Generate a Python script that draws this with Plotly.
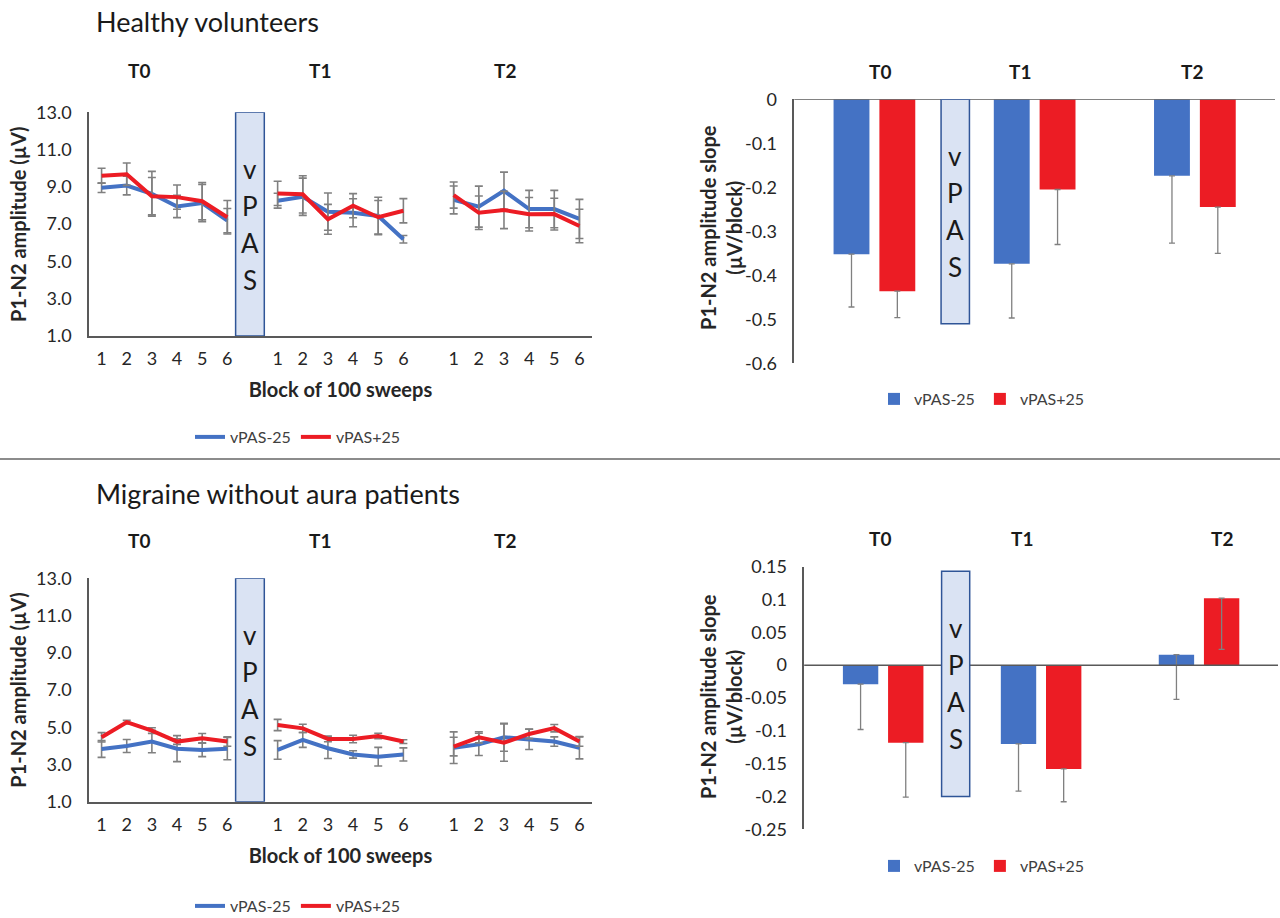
import plotly.graph_objects as go

W, H = 1280, 918
FONT = "Lato"

# ---------------- data ----------------
blocks = ["1", "2", "3", "4", "5", "6"]
sessions = ["T0", "T1", "T2"]
series_names = ["vPAS-25", "vPAS+25"]

# Healthy volunteers: P1-N2 amplitude (µV), 6 blocks x 3 sessions
hv_minus25 = [8.95, 9.07, 8.63, 7.95, 8.13, 7.19,
              8.26, 8.47, 7.67, 7.61, 7.44, 6.19,
              8.30, 7.94, 8.79, 7.81, 7.81, 7.28]
hv_plus25 = [9.60, 9.68, 8.50, 8.45, 8.23, 7.37,
             8.65, 8.60, 7.26, 7.99, 7.37, 7.72,
             8.56, 7.61, 7.76, 7.53, 7.54, 6.90]
hv_minus25_err = [0.25, 0.50, 1.20, 0.60, 1.00, 0.65,
                  0.40, 1.00, 1.00, 0.75, 1.00, 0.20,
                  0.75, 1.10, 1.00, 1.00, 1.00, 1.05]
hv_plus25_err = [0.40, 0.60, 1.00, 0.65, 1.00, 0.90,
                 0.65, 1.00, 0.80, 0.65, 0.90, 0.65,
                 0.70, 0.90, 1.00, 0.90, 0.85, 0.90]

# Migraine without aura patients
mo_minus25 = [3.83, 3.99, 4.23, 3.85, 3.78, 3.85,
              3.78, 4.32, 3.87, 3.54, 3.42, 3.54,
              3.90, 4.08, 4.46, 4.35, 4.23, 3.90]
mo_plus25 = [4.46, 5.27, 4.82, 4.23, 4.41, 4.23,
             5.12, 4.94, 4.37, 4.37, 4.53, 4.23,
             3.96, 4.46, 4.17, 4.64, 4.95, 4.23]
mo_minus25_err = [0.45, 0.35, 0.60, 0.70, 0.36, 0.60,
                  0.50, 0.40, 0.55, 0.20, 0.50, 0.35,
                  0.85, 0.60, 0.75, 0.55, 0.25, 0.60]
mo_plus25_err = [0.25, 0.10, 0.15, 0.15, 0.25, 0.25,
                 0.30, 0.22, 0.15, 0.20, 0.15, 0.10,
                 0.50, 0.30, 1.00, 0.25, 0.20, 0.25]

# Slopes (µV/block) per session
hv_slope_minus25 = [-0.352, -0.374, -0.174]
hv_slope_plus25 = [-0.436, -0.205, -0.245]
hv_slope_minus25_err = [0.120, 0.123, 0.153]
hv_slope_plus25_err = [0.060, 0.125, 0.105]

mo_slope_minus25 = [-0.029, -0.120, 0.016]
mo_slope_plus25 = [-0.118, -0.158, 0.102]
mo_slope_minus25_err = [0.069, 0.072, 0.068]
mo_slope_plus25_err = [0.083, 0.050, 0.078]

amp_ticks = [1.0, 3.0, 5.0, 7.0, 9.0, 11.0, 13.0]
hv_slope_ticks = [0, -0.1, -0.2, -0.3, -0.4, -0.5, -0.6]
hv_slope_ticklabels = ["0", "-0.1", "-0.2", "-0.3", "-0.4", "-0.5", "-0.6"]
mo_slope_ticks = [0.15, 0.1, 0.05, 0, -0.05, -0.1, -0.15, -0.2, -0.25]
mo_slope_ticklabels = ["0.15", "0.1", "0.05", "0", "-0.05", "-0.1", "-0.15", "-0.2", "-0.25"]

BLUE = "#4472C4"
RED = "#EC1C24"
GREY = "#808080"
AXIS = "#595959"


# ---------------- helpers ----------------
def xdom(a, b):
    return [a / W, b / W]


def ydom(top, bottom):
    return [1 - bottom / H, 1 - top / H]


SESSION_STRIDE = 7  # 6 blocks + one empty slot


def line_xy(values, errs):
    xs, ys, es = [], [], []
    for s in range(len(sessions)):
        for b in range(len(blocks)):
            i = s * len(blocks) + b
            xs.append(s * SESSION_STRIDE + b)
            ys.append(values[i])
            es.append(errs[i])
        xs.append(None)
        ys.append(None)
        es.append(0)
    return xs, ys, es


tick_pos = [s * SESSION_STRIDE + b for s in range(len(sessions)) for b in range(len(blocks))]
tick_txt = blocks * len(sessions)

fig = go.Figure()

# ---------------- line charts ----------------
line_sets = [
    ("x", "y", "legend", [(hv_minus25, hv_minus25_err), (hv_plus25, hv_plus25_err)]),
    ("x2", "y2", "legend2", [(mo_minus25, mo_minus25_err), (mo_plus25, mo_plus25_err)]),
]
for xa, ya, lg, series in line_sets:
    for name, color, (vals, errs) in zip(series_names, [BLUE, RED], series):
        xs, ys, es = line_xy(vals, errs)
        fig.add_trace(go.Scatter(
            x=xs, y=ys, mode="lines", name=name, legend=lg,
            line=dict(color=color, width=4),
            error_y=dict(type="data", array=es, color=GREY, thickness=1.6, width=4),
            xaxis=xa, yaxis=ya, connectgaps=False,
        ))

# ---------------- bar charts ----------------
bar_sets = [
    ("x3", "y3", "legend3", [(hv_slope_minus25, hv_slope_minus25_err), (hv_slope_plus25, hv_slope_plus25_err)]),
    ("x4", "y4", "legend4", [(mo_slope_minus25, mo_slope_minus25_err), (mo_slope_plus25, mo_slope_plus25_err)]),
]
for xa, ya, lg, series in bar_sets:
    for name, color, (vals, errs) in zip(series_names, [BLUE, RED], series):
        fig.add_trace(go.Bar(
            x=sessions, y=vals, name=name, legend=lg,
            marker=dict(color=color, line=dict(width=0)),
            error_y=dict(type="data", symmetric=False, array=[0] * len(errs), arrayminus=errs,
                         color=GREY, thickness=1.3, width=3),
            xaxis=xa, yaxis=ya,
        ))

axis_common = dict(showgrid=False, zeroline=False, showline=True, linecolor=AXIS, automargin=False,
                   linewidth=1.5, ticks="", tickfont=dict(family=FONT, size=18, color="#262626"))

title_font = dict(family=FONT, size=20, color="#262626", weight="bold")
legend_font = dict(family=FONT, size=16, color="#404040")

fig.update_layout(
    autosize=True, margin=dict(l=0, r=0, t=0, b=0, pad=0, autoexpand=False),
    paper_bgcolor="white", plot_bgcolor="white",
    font=dict(family=FONT, color="#262626"),
    barmode="group", bargap=0.428, bargroupgap=0.217,
    showlegend=True,
    xaxis=dict(axis_common, domain=xdom(89, 592), range=[-0.5, 19.5], tickmode="array",
               tickvals=tick_pos, ticktext=tick_txt, anchor="y", ticklabelstandoff=6,
               title=dict(text="Block of 100 sweeps", font=title_font, standoff=15)),
    yaxis=dict(axis_common, domain=ydom(112.3, 336), range=[1, 13], tickmode="array",
               tickvals=amp_ticks, tickformat=".1f", anchor="x", ticklabelstandoff=12,
               title=dict(text="P1-N2 amplitude (µV)", font=title_font, standoff=4)),
    xaxis2=dict(axis_common, domain=xdom(89, 592), range=[-0.5, 19.5], tickmode="array",
                tickvals=tick_pos, ticktext=tick_txt, anchor="y2", ticklabelstandoff=6,
                title=dict(text="Block of 100 sweeps", font=title_font, standoff=15)),
    yaxis2=dict(axis_common, domain=ydom(578.3, 801.7), range=[1, 13], tickmode="array",
                tickvals=amp_ticks, tickformat=".1f", anchor="x2", ticklabelstandoff=12,
                title=dict(text="P1-N2 amplitude (µV)", font=title_font, standoff=4)),
    xaxis3=dict(axis_common, domain=xdom(794.3, 1275), range=[-0.5, 2.5], showline=False,
                showticklabels=False, anchor="y3"),
    yaxis3=dict(axis_common, domain=ydom(99.3, 363.3), range=[-0.6, 0], tickmode="array",
                tickvals=hv_slope_ticks, ticktext=hv_slope_ticklabels, anchor="x3",
                ticklabelstandoff=12),
    xaxis4=dict(axis_common, domain=xdom(804.2, 1278), range=[-0.5, 2.5], showline=False,
                showticklabels=False, anchor="y4"),
    yaxis4=dict(axis_common, domain=ydom(566.7, 829.3), range=[-0.25, 0.15], tickmode="array",
                tickvals=mo_slope_ticks, ticktext=mo_slope_ticklabels, anchor="x4",
                ticklabelstandoff=12),
    legend=dict(orientation="h", x=298 / W, y=1 - 437 / H, xanchor="center", yanchor="middle",
                font=legend_font, bgcolor="rgba(0,0,0,0)"),
    legend2=dict(orientation="h", x=298 / W, y=1 - 906 / H, xanchor="center", yanchor="middle",
                 font=legend_font, bgcolor="rgba(0,0,0,0)"),
    legend3=dict(orientation="h", x=982 / W, y=1 - 399 / H, xanchor="center", yanchor="middle",
                 font=legend_font, bgcolor="rgba(0,0,0,0)"),
    legend4=dict(orientation="h", x=982 / W, y=1 - 866 / H, xanchor="center", yanchor="middle",
                 font=legend_font, bgcolor="rgba(0,0,0,0)"),
)

shapes = []
annotations = []

# zero lines of the bar charts
for xa, ya in [("x3", "y3"), ("x4", "y4")]:
    shapes.append(dict(type="line", xref=f"{xa} domain", yref=ya, x0=0, x1=1, y0=0, y1=0,
                       line=dict(color=AXIS, width=1.5)))

# slope axis titles (two-line, rotated)
for ypx in [228, 697]:
    annotations.append(dict(xref="paper", yref="paper", x=721 / W, y=1 - ypx / H,
                            text="P1-N2 amplitude slope<br>(µV/block)", textangle=-90,
                            showarrow=False, xanchor="center", yanchor="middle",
                            font=title_font))

# separator between the two groups
shapes.append(dict(type="line", xref="paper", yref="paper", x0=0, x1=1,
                   y0=1 - 459 / H, y1=1 - 459 / H, line=dict(color="#8c8c8c", width=2)))

# vPAS boxes (x0, x1, y0, y1 in data units of each panel)
vpas_boxes = [
    ("x", "y", 5.33, 6.47, 1, 13),
    ("x2", "y2", 5.33, 6.47, 1, 13),
    ("x3", "y3", 0.416, 0.593, -0.51, 0),
    ("x4", "y4", 0.370, 0.548, -0.20, 0.143),
]
vpas_letters = ["v", "P", "A", "S"]
for xa, ya, x0, x1, y0, y1 in vpas_boxes:
    shapes.append(dict(type="rect", xref=xa, yref=ya, x0=x0, x1=x1, y0=y0, y1=y1,
                       fillcolor="#DAE3F3", line=dict(color="#2F5597", width=1.5)))
    for k, letter in enumerate(vpas_letters):
        annotations.append(dict(xref=xa, yref=ya, x=(x0 + x1) / 2, y=(y0 + y1) / 2,
                                text=letter, showarrow=False, yshift=(1.5 - k) * 37,
                                font=dict(family=FONT, size=26, color="#1a1a1a")))

# group titles
for txt, ypx in [("Healthy volunteers", 22), ("Migraine without aura patients", 493)]:
    annotations.append(dict(xref="paper", yref="paper", x=94 / W, y=1 - ypx / H, text=txt,
                            showarrow=False, xanchor="left", yanchor="middle",
                            font=dict(family=FONT, size=27, color="#1a1a1a")))

# session labels
session_label_px = [
    ([139, 320, 505], 70),
    ([880, 1020, 1192], 72),
    ([139, 320, 505], 540),
    ([880, 1022, 1222], 538),
]
for xs_px, ypx in session_label_px:
    for name, xp in zip(sessions, xs_px):
        annotations.append(dict(xref="paper", yref="paper", x=xp / W, y=1 - ypx / H, text=name,
                                showarrow=False, xanchor="center", yanchor="middle",
                                font=dict(family=FONT, size=19, color="#1a1a1a", weight="bold")))

fig.update_layout(shapes=shapes, annotations=annotations)

fig.write_html("out.html", default_width="100vw", default_height="100vh",
               config={"displayModeBar": False, "responsive": True},
               post_script="document.body.style.margin='0';document.body.style.overflow='hidden';")
